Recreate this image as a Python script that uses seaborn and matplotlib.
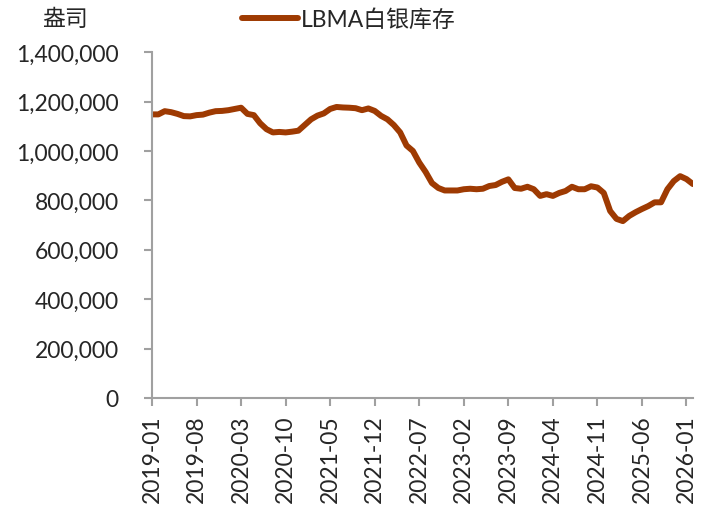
import numpy as np
import pandas as pd
import matplotlib
matplotlib.use("Agg")
import matplotlib.pyplot as plt
import seaborn as sns

# monthly LBMA silver stocks (ounces), 2019-01 .. 2026-02
months = pd.date_range("2019-01-01", "2026-02-01", freq="MS").strftime("%Y-%m").tolist()
stock = [
    1148000, 1148000, 1161000, 1157000, 1150000, 1141000, 1140000, 1145000,
    1147000, 1155000, 1161000, 1162000, 1165000, 1170000, 1175000, 1150000,
    1145000, 1112000, 1088000, 1075000, 1077000, 1075000, 1078000, 1082000,
    1105000, 1128000, 1143000, 1152000, 1170000, 1178000, 1176000, 1175000,
    1173000, 1165000, 1172000, 1162000, 1142000, 1128000, 1105000, 1075000,
    1022000, 1000000, 953000, 915000, 870000, 850000, 840000, 840000,
    840000, 845000, 847000, 845000, 847000, 858000, 862000, 875000,
    885000, 850000, 847000, 855000, 845000, 818000, 825000, 818000,
    830000, 838000, 855000, 845000, 845000, 857000, 852000, 830000,
    757000, 725000, 716000, 737000, 752000, 765000, 777000, 792000,
    792000, 845000, 878000, 898000, 886000, 866000,
]
series_name = "LBMA白银库存"
unit_label = "盎司"

df = pd.DataFrame({"month": months, "stock": stock})
df["idx"] = np.arange(len(df))

sns.set_style("white")
plt.rcParams["font.family"] = ["Lato", "Noto Sans CJK SC", "DejaVu Sans"]
fs = 16.5

fig = plt.figure(figsize=(7.07, 5.06), dpi=100)
ax = fig.add_axes([0.215, 0.2115, 0.765, 0.6835])

line_color = "#9E3A02"
sns.lineplot(data=df, x="idx", y="stock", ax=ax, color=line_color,
             linewidth=4.3, label=series_name, legend=False)

ax.set_xlim(0, len(df) - 1)
ax.set_ylim(0, 1400000)
ax.set_yticks(np.arange(0, 1400001, 200000))
ax.set_yticklabels([f"{v:,}" for v in range(0, 1400001, 200000)], fontsize=fs)
tick_pos = list(range(0, len(df), 7))
ax.set_xticks(tick_pos)
ax.set_xticklabels([months[i] for i in tick_pos], rotation=90, fontsize=fs)
ax.set_xlabel("")
ax.set_ylabel("")

for side in ["top", "right"]:
    ax.spines[side].set_visible(False)
for side in ["left", "bottom"]:
    ax.spines[side].set_color("#A0A0A0")
    ax.spines[side].set_linewidth(1.5)
ax.tick_params(axis="both", which="major", length=6, width=1.5, color="#A0A0A0",
               direction="out", left=True, bottom=True)
ax.tick_params(axis="y", pad=18)
ax.tick_params(axis="x", pad=6)

fig.text(0.092, 0.962, unit_label, fontsize=fs, ha="center", va="center")
ax.legend(loc="center left", bbox_to_anchor=(0.166, 1.095), frameon=False,
          fontsize=fs, handlelength=2.44, handletextpad=0.15,
          borderaxespad=0, borderpad=0)

fig.savefig("out.png", dpi=100)
